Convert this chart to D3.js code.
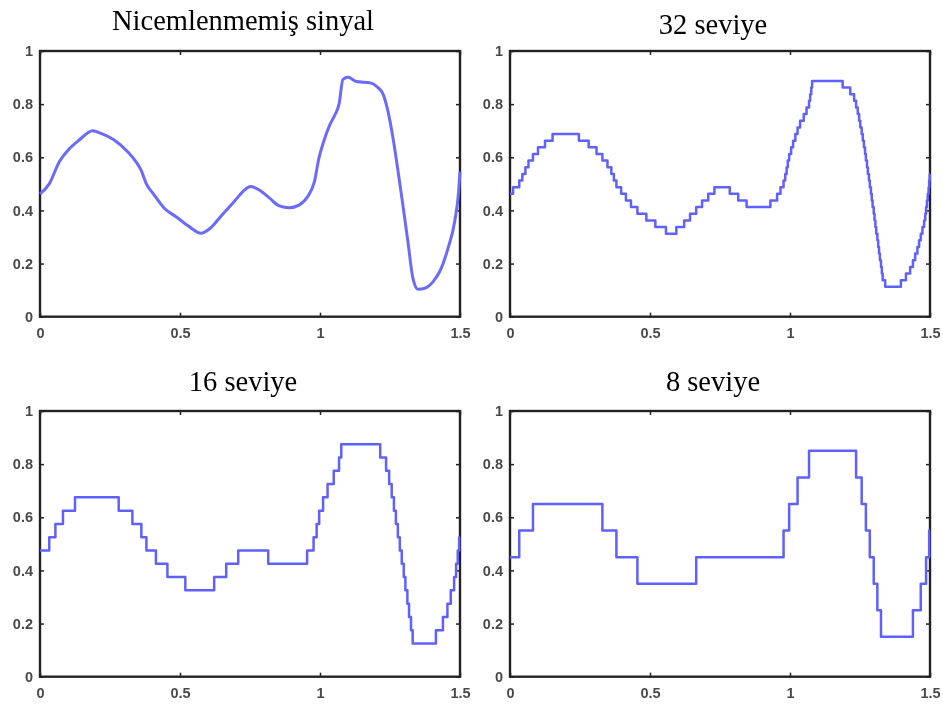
<!DOCTYPE html>
<html>
<head>
<meta charset="utf-8">
<script src="https://cdn.jsdelivr.net/npm/d3@7"></script>
<style>
  body { margin: 0; background: #fff; }
  svg { display: block; }
  .tick text { font-family: "Liberation Sans", Arial, sans-serif; font-size: 14.5px; font-weight: bold; fill: #4a4a4a; }
  .tick line { stroke: #222; stroke-width: 1.5; }
  .title { font-family: "Liberation Serif", "Times New Roman", serif; font-size: 28.5px; fill: #000; }
</style>
</head>
<body>
<div id="chart"></div>
<script>
const xTicks = [0, 0.5, 1, 1.5]
const yTicks = [0, 0.2, 0.4, 0.6, 0.8, 1]
const xTickLabels = ['0', '0.5', '1', '1.5']
const yTickLabels = ['0', '0.2', '0.4', '0.6', '0.8', '1']
const titles = ['Nicemlenmemiş sinyal', '32 seviye', '16 seviye', '8 seviye']

// unquantized signal
const signalX = [0, 0.033, 0.069, 0.105, 0.14, 0.188, 0.218, 0.265, 0.313, 0.343, 0.361, 0.379, 0.408, 0.444,
  0.486, 0.533, 0.575, 0.608, 0.65, 0.693, 0.735, 0.752, 0.783, 0.82, 0.855, 0.89, 0.925, 0.956, 0.98, 0.996,
  1.013, 1.035, 1.052, 1.068, 1.082, 1.1, 1.13, 1.18, 1.203, 1.226, 1.243, 1.261, 1.279, 1.296, 1.314, 1.332,
  1.35, 1.374, 1.404, 1.433, 1.457, 1.481, 1.495, 1.5]
const signalY = [0.462, 0.5, 0.583, 0.632, 0.665, 0.7, 0.69, 0.665, 0.621, 0.583, 0.552, 0.502, 0.458, 0.408,
  0.376, 0.339, 0.314, 0.333, 0.383, 0.433, 0.481, 0.49, 0.477, 0.446, 0.417, 0.41, 0.42, 0.452, 0.508, 0.596,
  0.659, 0.722, 0.757, 0.8, 0.893, 0.901, 0.885, 0.88, 0.866, 0.836, 0.772, 0.671, 0.546, 0.42, 0.282, 0.144,
  0.103, 0.107, 0.132, 0.182, 0.257, 0.358, 0.47, 0.546]

// quantized signals: [x where the step starts, level]
const steps32 = [
  [0, 0.4625], [0.011, 0.4875], [0.033, 0.5125], [0.044, 0.5375], [0.055, 0.5625], [0.066, 0.5875],
  [0.082, 0.6125], [0.1, 0.6375], [0.125, 0.6625], [0.152, 0.6875], [0.246, 0.6625], [0.281, 0.6375],
  [0.309, 0.6125], [0.33, 0.5875], [0.348, 0.5625], [0.362, 0.5375], [0.371, 0.5125], [0.38, 0.4875],
  [0.397, 0.4625], [0.414, 0.4375], [0.432, 0.4125], [0.455, 0.3875], [0.487, 0.3625], [0.519, 0.3375],
  [0.557, 0.3125], [0.594, 0.3375], [0.622, 0.3625], [0.643, 0.3875], [0.665, 0.4125], [0.686, 0.4375],
  [0.708, 0.4625], [0.73, 0.4875], [0.785, 0.4625], [0.815, 0.4375], [0.845, 0.4125], [0.93, 0.4375],
  [0.954, 0.4625], [0.966, 0.4875], [0.977, 0.5125], [0.983, 0.5375], [0.988, 0.5625], [0.992, 0.5875],
  [0.997, 0.6125], [1.004, 0.6375], [1.011, 0.6625], [1.019, 0.6875], [1.027, 0.7125], [1.036, 0.7375],
  [1.049, 0.7625], [1.059, 0.7875], [1.068, 0.8125], [1.072, 0.8375], [1.076, 0.8625], [1.079, 0.8875],
  [1.188, 0.8625], [1.215, 0.8375], [1.229, 0.8125], [1.236, 0.7875], [1.242, 0.7625], [1.247, 0.7375],
  [1.251, 0.7125], [1.256, 0.6875], [1.26, 0.6625], [1.264, 0.6375], [1.268, 0.6125], [1.271, 0.5875],
  [1.275, 0.5625], [1.278, 0.5375], [1.282, 0.5125], [1.285, 0.4875], [1.289, 0.4625], [1.292, 0.4375],
  [1.295, 0.4125], [1.299, 0.3875], [1.302, 0.3625], [1.305, 0.3375], [1.308, 0.3125], [1.312, 0.2875],
  [1.315, 0.2625], [1.318, 0.2375], [1.321, 0.2125], [1.325, 0.1875], [1.328, 0.1625], [1.331, 0.1375],
  [1.34, 0.1125], [1.396, 0.1375], [1.414, 0.1625], [1.429, 0.1875], [1.439, 0.2125], [1.447, 0.2375],
  [1.455, 0.2625], [1.461, 0.2875], [1.467, 0.3125], [1.473, 0.3375], [1.479, 0.3625], [1.483, 0.3875],
  [1.486, 0.4125], [1.489, 0.4375], [1.492, 0.4625], [1.495, 0.4875], [1.497, 0.5125], [1.499, 0.5375]
]

const steps16 = [
  [0, 0.475], [0.033, 0.525], [0.055, 0.575], [0.082, 0.625], [0.125, 0.675], [0.281, 0.625],
  [0.33, 0.575], [0.362, 0.525], [0.38, 0.475], [0.414, 0.425], [0.455, 0.375], [0.519, 0.325],
  [0.622, 0.375], [0.665, 0.425], [0.708, 0.475], [0.815, 0.425], [0.954, 0.475], [0.977, 0.525],
  [0.988, 0.575], [0.997, 0.625], [1.011, 0.675], [1.027, 0.725], [1.049, 0.775], [1.068, 0.825],
  [1.076, 0.875], [1.215, 0.825], [1.236, 0.775], [1.247, 0.725], [1.256, 0.675], [1.264, 0.625],
  [1.271, 0.575], [1.278, 0.525], [1.285, 0.475], [1.292, 0.425], [1.299, 0.375], [1.305, 0.325],
  [1.312, 0.275], [1.318, 0.225], [1.325, 0.175], [1.331, 0.125], [1.414, 0.175], [1.439, 0.225],
  [1.455, 0.275], [1.467, 0.325], [1.479, 0.375], [1.486, 0.425], [1.492, 0.475], [1.497, 0.525]
]

const steps8 = [
  [0, 0.45], [0.033, 0.55], [0.082, 0.65], [0.33, 0.55], [0.38, 0.45], [0.455, 0.35], [0.665, 0.45],
  [0.977, 0.55], [0.997, 0.65], [1.027, 0.75], [1.068, 0.85], [1.236, 0.75], [1.256, 0.65],
  [1.271, 0.55], [1.285, 0.45], [1.299, 0.35], [1.312, 0.25], [1.325, 0.15], [1.439, 0.25],
  [1.467, 0.35], [1.486, 0.45], [1.497, 0.55]
]

const signal = signalX.map((x, i) => [x, signalY[i]])
const withEnd = s => s.concat([[1.5, s[s.length - 1][1]]])

const panels = [
  { title: titles[0], data: signal, left: 40, top: 51, titleY: 30, curve: d3.curveMonotoneX, color: '#6b6bff', lw: 3 },
  { title: titles[1], data: withEnd(steps32), left: 510, top: 51, titleY: 33.5, curve: d3.curveStepAfter, color: '#6060ff', lw: 2.5 },
  { title: titles[2], data: withEnd(steps16), left: 40, top: 411, titleY: 391, curve: d3.curveStepAfter, color: '#6060ff', lw: 2.5 },
  { title: titles[3], data: withEnd(steps8), left: 510, top: 411, titleY: 391, curve: d3.curveStepAfter, color: '#6060ff', lw: 2.5 }
]

const width = 420
const height = 265.7

const svg = d3.select('#chart').append('svg')
  .attr('width', 943)
  .attr('height', 704)

// the reference is a soft, slightly blurred scan
svg.append('defs').append('filter')
  .attr('id', 'soft')
  .append('feGaussianBlur')
  .attr('stdDeviation', 0.45)

const root = svg.append('g').attr('filter', 'url(#soft)')

const xScale = d3.scaleLinear().domain([0, 1.5]).range([0, width])
const yScale = d3.scaleLinear().domain([0, 1]).range([height, 0])

panels.forEach(p => {
  const g = root.append('g')
    .attr('transform', 'translate(' + p.left + ',' + p.top + ')')

  root.append('text')
    .attr('class', 'title')
    .attr('x', p.left + width / 2 - 7)
    .attr('y', p.titleY)
    .attr('text-anchor', 'middle')
    .text(p.title)

  // axes, ticks point inward like matlab
  g.append('g')
    .attr('transform', 'translate(0,' + height + ')')
    .call(d3.axisBottom(xScale).tickValues(xTicks).tickSize(-4).tickPadding(11)
      .tickFormat((d, i) => xTickLabels[i]))
    .call(a => a.select('.domain').remove())

  g.append('g')
    .call(d3.axisLeft(yScale).tickValues(yTicks).tickSize(-4).tickPadding(7)
      .tickFormat((d, i) => yTickLabels[i]))
    .call(a => a.select('.domain').remove())

  g.append('g')
    .call(d3.axisTop(xScale).tickValues(xTicks).tickSize(-4).tickFormat(''))
    .call(a => a.select('.domain').remove())

  g.append('g')
    .attr('transform', 'translate(' + width + ',0)')
    .call(d3.axisRight(yScale).tickValues(yTicks).tickSize(-4).tickFormat(''))
    .call(a => a.select('.domain').remove())

  g.append('rect')
    .attr('width', width)
    .attr('height', height)
    .attr('fill', 'none')
    .attr('stroke', '#222')
    .attr('stroke-width', 2.4)

  const line = d3.line()
    .x(d => xScale(d[0]))
    .y(d => yScale(d[1]))
    .curve(p.curve)

  g.append('path')
    .datum(p.data)
    .attr('d', line)
    .attr('fill', 'none')
    .attr('stroke', p.color)
    .attr('stroke-width', p.lw)
    .attr('stroke-linejoin', 'round')
})
</script>
</body>
</html>
